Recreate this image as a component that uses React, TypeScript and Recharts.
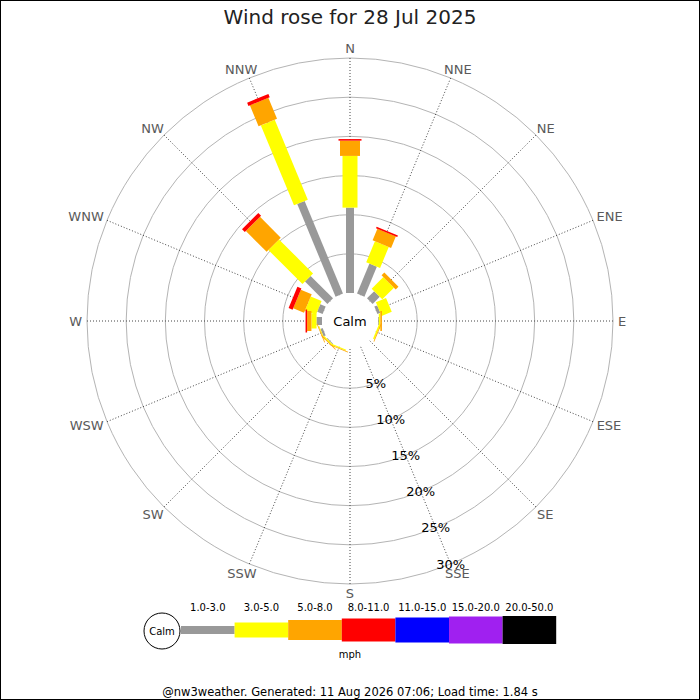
import React from "react";
import {
  Legend, PolarAngleAxis, PolarGrid, PolarRadiusAxis, RadialBar, RadialBarChart,
} from "recharts";

const FONT = "'DejaVu Sans', Verdana, sans-serif";

const DIRECTIONS = ["N", "NNE", "NE", "ENE", "E", "ESE", "SE", "SSE", "S", "SSW", "SW", "WSW", "W", "WNW", "NW", "NNW"];
const BEARINGS = [0, 22.5, 45, 67.5, 90, 112.5, 135, 157.5, 180, 202.5, 225, 247.5, 270, 292.5, 315, 337.5];

const SPEED_BANDS = ["1.0-3.0", "3.0-5.0", "5.0-8.0", "8.0-11.0", "11.0-15.0", "15.0-20.0", "20.0-50.0"];
const BAND_COLORS = ["#999999", "#ffff00", "#ffa500", "#ff0000", "#0000ff", "#a020f0", "#000000"];
// bar thickness grows with wind speed, same in the rose and the key
const BAND_WIDTHS = [8, 15, 20, 23, 25, 27, 28];

// % of the day from each direction, one list per speed band (N .. NNW)
const PCT_1_3 = [10.9, 4.15, 1.3, 0.4, 0.1, 0, 0, 0, 0, 0, 0.1, 0.3, 0.7, 0.75, 4.05, 12.8];
const PCT_3_5 = [6.6, 2.9, 2.1, 1.4, 0.2, 0.2, 0, 0, 0, 0.15, 0.15, 0.1, 0.65, 1.5, 6.15, 11.05];
const PCT_5_8 = [1.95, 1.6, 0.5, 0, 0.2, 0.1, 0, 0, 0, 0.1, 0.1, 0.1, 0.55, 1.5, 3.75, 2.9];
const PCT_8_11 = [0.2, 0.2, 0, 0, 0, 0, 0, 0, 0, 0, 0, 0, 0.2, 0.55, 0.5, 0.45];
const PCT_11_15 = [0, 0, 0, 0, 0, 0, 0, 0, 0, 0, 0, 0, 0, 0, 0, 0];
const PCT_15_20 = [0, 0, 0, 0, 0, 0, 0, 0, 0, 0, 0, 0, 0, 0, 0, 0];
const PCT_20_50 = [0, 0, 0, 0, 0, 0, 0, 0, 0, 0, 0, 0, 0, 0, 0, 0];

const RADIUS_TICKS = [5, 10, 15, 20, 25, 30];

const SERIES = [PCT_1_3, PCT_3_5, PCT_5_8, PCT_8_11, PCT_11_15, PCT_15_20, PCT_20_50];

const data = DIRECTIONS.map((dir, i) => {
  const row: Record<string, string | number> = { dir, deg: BEARINGS[i] };
  SERIES.forEach((s, k) => { row[`b${k}`] = s[i]; });
  return row;
});

const CX = 350;
const CY = 321;
const R_IN = 28;
const R_OUT = 263;

const toRad = (a: number) => (-a * Math.PI) / 180;

// Straight bar of fixed thickness laid along the middle of the polar band.
const barShape = (width: number) => (p: any) => {
  const { cx, cy, innerRadius, outerRadius, startAngle, endAngle, fill } = p;
  if (!(outerRadius - innerRadius > 0.01)) return <g />;
  const a = toRad((startAngle + endAngle) / 2);
  const ux = Math.cos(a), uy = Math.sin(a);
  const nx = (-uy * width) / 2, ny = (ux * width) / 2;
  const pts = [[innerRadius, 1], [outerRadius, 1], [outerRadius, -1], [innerRadius, -1]]
    .map(([r, s]) => `${cx + ux * r + s * nx},${cy + uy * r + s * ny}`)
    .join(" ");
  return <polygon points={pts} fill={fill} />;
};

// rough DejaVu cap widths (em) so compass labels sit just outside the ring
const CAP_W: Record<string, number> = { N: 0.748, E: 0.632, S: 0.635, W: 0.989 };

function DirTick({ x, y, payload }: any) {
  const label = DIRECTIONS[BEARINGS.indexOf(payload.value)] ?? "";
  const a = toRad(payload.coordinate);
  const w = [...label].reduce((s, c) => s + (CAP_W[c] ?? 0.7), 0) * 13;
  const h = 0.73 * 13;
  return (
    <text x={x + (Math.cos(a) * w) / 2} y={y + (Math.sin(a) * h) / 2} dy="0.36em"
      textAnchor="middle" fontSize={13} fill="#5a5a5a" fontFamily={FONT}>
      {label}
    </text>
  );
}

function PctTick({ x, y, payload }: any) {
  return (
    <text x={x} y={y} dy="0.36em" textAnchor="middle" fontSize={13} fill="#000" fontFamily={FONT}>
      {payload.value}%
    </text>
  );
}

function SpeedKey() {
  const x0 = 181, step = 53.6, mid = 34;
  return (
    <svg width={700} height={72} style={{ display: "block" }} fontFamily={FONT}>
      {SPEED_BANDS.map((b, i) => (
        <g key={b}>
          <rect x={x0 + i * step} y={mid - BAND_WIDTHS[i] / 2} width={step} height={BAND_WIDTHS[i]} fill={BAND_COLORS[i]} />
          <text x={x0 + (i + 0.5) * step} y={11} dy="0.36em" textAnchor="middle" fontSize={10} fill="#000">{b}</text>
        </g>
      ))}
      <circle cx={162} cy={35} r={18} fill="#fff" stroke="#000" />
      <text x={162} y={35} dy="0.36em" textAnchor="middle" fontSize={10}>Calm</text>
      <text x={350} y={58} dy="0.36em" textAnchor="middle" fontSize={10}>mph</text>
    </svg>
  );
}

export default function App() {
  return (
    <div style={{ position: "absolute", left: 0, top: 0, width: 700, height: 700, background: "#fff",
      border: "1px solid #000", boxSizing: "border-box", fontFamily: FONT, overflow: "hidden" }}>
      <div style={{ position: "absolute", top: 4, width: "100%", textAlign: "center", fontSize: 20, color: "#222" }}>
        Wind rose for 28 Jul 2025
      </div>
      <div style={{ position: "absolute", left: -1, top: -1 }}>
        <RadialBarChart width={700} height={700} data={data} layout="centric"
          cx={CX} cy={CY} innerRadius={R_IN} outerRadius={R_OUT}
          startAngle={90} endAngle={-270} margin={{ top: 0, right: 0, bottom: 0, left: 0 }}>
          <PolarAngleAxis type="number" dataKey="deg" domain={[0, 360]} ticks={BEARINGS}
            axisLine={false} tickLine={false} tickSize={5} tick={<DirTick />} />
          <PolarRadiusAxis type="number" domain={[0, 30]} ticks={RADIUS_TICKS} angle={-67.5}
            axisLine={false} tickLine={false} tick={<PctTick />} />
          <PolarGrid gridType="circle" radialLines={false} stroke="#b4b4b4" strokeWidth={1} />
          <PolarGrid gridType="circle" polarRadius={[]} stroke="#444" strokeDasharray="1 2" />
          {SPEED_BANDS.map((b, k) => (
            <RadialBar key={b} name={b} dataKey={`b${k}`} stackId="rose" fill={BAND_COLORS[k]}
              shape={barShape(BAND_WIDTHS[k])} isAnimationActive={false} />
          ))}
          <circle cx={CX} cy={CY} r={R_IN - 1} fill="#fff" />
          <text x={CX} y={CY} dy="0.36em" textAnchor="middle" fontSize={13} fill="#000" fontFamily={FONT}>Calm</text>
          <Legend verticalAlign="top" content={<SpeedKey />}
            wrapperStyle={{ left: 0, top: 596, width: 700, height: 72 }} />
        </RadialBarChart>
      </div>
      <div style={{ position: "absolute", top: 684, width: "100%", textAlign: "center", fontSize: 11.5 }}>
        @nw3weather. Generated: 11 Aug 2026 07:06; Load time: 1.84 s
      </div>
    </div>
  );
}
